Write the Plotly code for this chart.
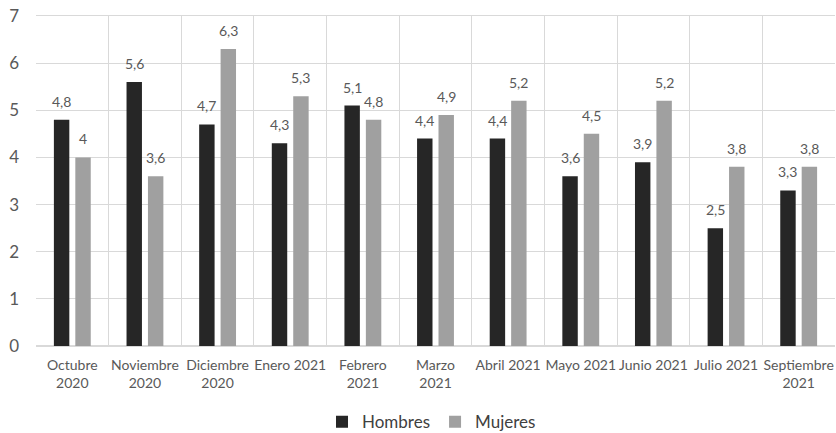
import plotly.graph_objects as go

categories = [
    "Octubre<br>2020", "Noviembre<br>2020", "Diciembre<br>2020", "Enero 2021",
    "Febrero<br>2021", "Marzo<br>2021", "Abril 2021", "Mayo 2021",
    "Junio 2021", "Julio 2021", "Septiembre<br>2021",
]
hombres = [4.8, 5.6, 4.7, 4.3, 5.1, 4.4, 4.4, 3.6, 3.9, 2.5, 3.3]
mujeres = [4.0, 3.6, 6.3, 5.3, 4.8, 4.9, 5.2, 4.5, 5.2, 3.8, 3.8]


def fmt(v):
    return f"{v:g}".replace(".", ",")


font_family = "Lato, 'Open Sans', sans-serif"
BARGAP = 0.41
BARGROUPGAP = 0.28

fig = go.Figure()
fig.add_trace(go.Bar(
    name="Hombres", x=categories, y=hombres,
    marker=dict(color="#262626", line=dict(width=0)),
))
fig.add_trace(go.Bar(
    name="Mujeres", x=categories, y=mujeres,
    marker=dict(color="#a0a0a0", line=dict(width=0)),
))

# value labels sitting a little above each bar
half_slot = (1 - BARGAP) / 4
annotations = []
for i in range(len(categories)):
    for series, side in ((hombres, -1), (mujeres, 1)):
        annotations.append(dict(
            x=i + side * half_slot, y=series[i], xref="x", yref="y",
            text=fmt(series[i]), showarrow=False,
            yanchor="bottom", yshift=8,
            font=dict(family=font_family, size=14, color="#595959"),
        ))

fig.update_layout(
    width=836, height=433,
    margin=dict(l=36, r=1, t=16, b=87),
    paper_bgcolor="white", plot_bgcolor="white",
    barmode="group", bargap=BARGAP, bargroupgap=BARGROUPGAP,
    font=dict(family=font_family, color="#595959"),
    showlegend=True,
    legend=dict(
        orientation="h", x=0.495, xanchor="center",
        yref="container", y=0.025, yanchor="middle",
        font=dict(family=font_family, size=17, color="#404040"),
        traceorder="normal", itemwidth=30,
    ),
    annotations=annotations,
)
fig.update_xaxes(
    type="category", tickson="boundaries", showgrid=True,
    gridcolor="#d9d9d9", gridwidth=1,
    showline=True, linecolor="#d9d9d9", mirror=True,
    ticks="", tickfont=dict(family=font_family, size=14, color="#595959"),
    tickangle=0, ticklabelstandoff=6,
)
fig.update_yaxes(
    range=[0, 7], dtick=1, showgrid=True, gridcolor="#d9d9d9", gridwidth=1,
    zeroline=True, zerolinecolor="#d9d9d9", showline=False,
    tickfont=dict(family=font_family, size=17, color="#595959"),
    ticks="", ticklabelstandoff=16,
)

fig.write_html("out.html")
